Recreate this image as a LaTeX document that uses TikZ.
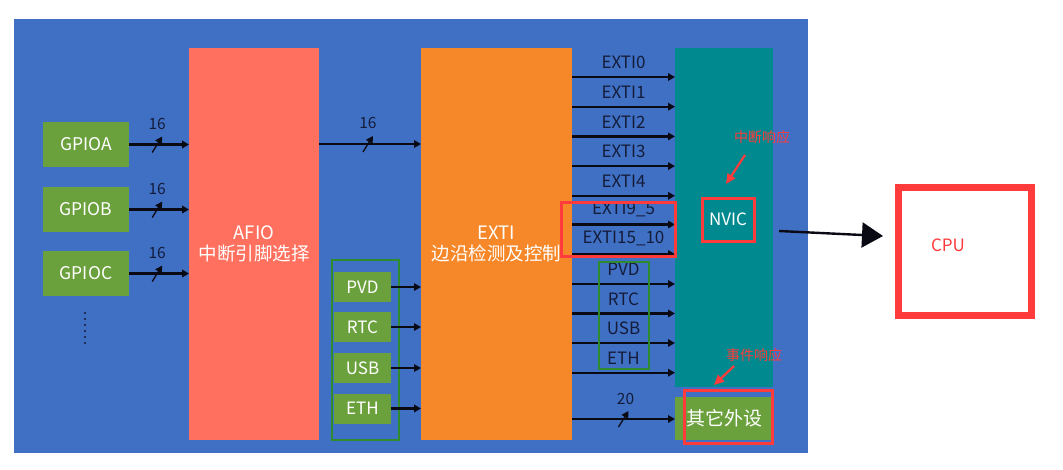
\documentclass[tikz,border=0pt]{standalone}
\usepackage{fontspec}
\setmainfont{Noto Sans CJK SC}
\usetikzlibrary{arrows.meta,decorations.markings}
\definecolor{bgblue}{HTML}{4070C4}
\definecolor{salmon}{HTML}{FF705E}
\definecolor{exorange}{HTML}{F68829}
\definecolor{teal}{HTML}{00898F}
\definecolor{boxgreen}{HTML}{6BA13D}
\definecolor{outgreen}{HTML}{2E8B2E}
\definecolor{annred}{HTML}{FF3B3B}
\definecolor{inkdark}{HTML}{141C3A}
\definecolor{arrowblack}{HTML}{0A0A14}
\begin{document}
\begin{tikzpicture}[x=1pt,y=-1pt,
  blk/.style={rectangle, inner sep=0pt, outer sep=0pt, draw=none},
  gbox/.style={blk, fill=boxgreen, text=white, font=\fontsize{17.5}{19}\selectfont},
  sbox/.style={blk, fill=boxgreen, text=white, minimum width=57pt, minimum height=30pt, font=\fontsize{17}{19}\selectfont},
  frame/.style={rectangle, inner sep=0pt, outer sep=0pt, fill=none},
  redframe/.style={frame, draw=annred, line width=3pt},
  greenframe/.style={frame, draw=outgreen, line width=2.5pt},
  lbl/.style={inner sep=0pt, text=inkdark, font=\fontsize{17}{19}\selectfont},
  num/.style={inner sep=0pt, text=inkdark, font=\fontsize{15.5}{17}\selectfont},
  ann/.style={inner sep=0pt, text=annred, font=\fontsize{14}{15}\selectfont},
  arr/.style={draw=arrowblack, line width=2.2pt, -{Triangle[length=7pt,width=7.5pt]}},
  bus/.style={arr, postaction={decorate, decoration={markings,
      mark=at position #1 with {\draw[arrowblack, line width=1.3pt] (-5pt,-8pt) -- (5pt,8pt);}}}},
  redarr/.style={draw=annred, line width=2.2pt, -{Triangle[length=10pt,width=9pt]}}
]
\useasboundingbox (0,0) rectangle (1063,469);
\fill[white] (0,0) rectangle (1063,469);
% background panel
\node[blk, fill=bgblue, minimum width=794pt, minimum height=434pt] (panel) at (411,236) {};

% GPIO sources
\node[gbox, minimum width=86pt, minimum height=45pt] (gpioa) at (86,144.5) {GPIOA};
\node[gbox, minimum width=86pt, minimum height=45pt] (gpiob) at (86,209.5) {GPIOB};
\node[gbox, minimum width=86pt, minimum height=45pt] (gpioc) at (86,273.5) {GPIOC};
\foreach \i in {0,...,5} \fill[inkdark] (85,313+6*\i) circle (1.1);

% main blocks
\node[blk, fill=salmon, minimum width=130pt, minimum height=392pt, text=white, align=center,
  font=\fontsize{18.5}{21}\selectfont] (afio) at (254,244) {AFIO\\中断引脚选择};
\node[blk, fill=exorange, minimum width=151pt, minimum height=392pt, text=white, align=center,
  font=\fontsize{18.5}{21}\selectfont] (exti) at (496.5,244) {EXTI\\边沿检测及控制};
\node[blk, fill=teal, minimum width=98pt, minimum height=339pt] (nvic) at (724,217.5) {};
\node[gbox, minimum width=98pt, minimum height=43pt, font=\fontsize{19}{20}\selectfont] (other) at (724,418.5) {其它外设};

% left peripheral group
\node[greenframe, minimum width=67pt, minimum height=180pt] (lgroup) at (365.5,350) {};
\node[sbox] (pvd) at (362.5,287) {PVD};
\node[sbox] (rtc) at (362.5,327) {RTC};
\node[sbox] (usb) at (362.5,368) {USB};
\node[sbox] (eth) at (362.5,408.5) {ETH};

% GPIO -> AFIO buses
\draw[bus=0.47] (gpioa.east) -- (afio.west |- gpioa.east) node[num, pos=0.47, above=14pt] {16};
\draw[bus=0.47] (gpiob.east) -- (afio.west |- gpiob.east) node[num, pos=0.47, above=14pt] {16};
\draw[bus=0.47] (gpioc.east) -- (afio.west |- gpioc.east) node[num, pos=0.47, above=14pt] {16};

% AFIO -> EXTI
\coordinate (afioout) at (319,144);
\draw[bus=0.48] (afio.east |- afioout) -- (exti.west |- afioout) node[num, pos=0.48, above=14pt] {16};

% peripherals -> EXTI
\foreach \p in {pvd,rtc,usb,eth} \draw[arr] (\p.east) -- (exti.west |- \p.east);

% EXTI -> NVIC lines
\foreach \y/\t in {77/EXTI0,106.7/EXTI1,136.4/EXTI2,166.1/EXTI3,195.8/EXTI4,224.5/EXTI9\_5,254/EXTI15\_10,284/PVD,313.5/RTC,343/USB,372.7/ETH}{
  \coordinate (ln) at (0,\y);
  \draw[arr] (exti.east |- ln) -- (nvic.west |- ln) node[lbl, pos=0.5, above=7pt] {\t};
}

% EXTI -> other peripherals (20 lines)
\coordinate (ln20) at (0,419);
\draw[bus=0.5] (exti.east |- ln20) -- (other.west |- ln20) node[num, pos=0.52, above=13pt] {20};

% highlight frames
\node[greenframe, minimum width=50pt, minimum height=107pt] (rgroup) at (624,315.5) {};
\node[redframe, minimum width=114pt, minimum height=54pt] (extired) at (618,229) {};
\node[redframe, minimum width=52pt, minimum height=43pt, text=white,
  font=\fontsize{17}{18}\selectfont] (nvicbox) at (728,219.5) {NVIC};
\node[redframe, minimum width=88pt, minimum height=53pt] (otherred) at (728,416.5) {};

% annotations
\node[ann] (irq) at (762,137.5) {中断响应};
\node[ann] (evt) at (754,355) {事件响应};
\coordinate (irqtail) at (745,155);
\coordinate (irqtip) at (726,184);
\coordinate (evttail) at (734,366);
\coordinate (evttip) at (714,385);
\draw[redarr] (irqtail) -- (irqtip);
\draw[redarr] (evttail) -- (evttip);

% CPU
\node[frame, draw=annred, line width=7pt, minimum width=133pt, minimum height=128pt] (cpu) at (965,251.5) {};
\node[ann, font=\fontsize{17}{19}\selectfont] (cputxt) at (948,245) {CPU};
\coordinate (bigstart) at (779,231);
\coordinate (bigtip) at (883,236);
\draw[arrowblack, line width=2.4pt, -{Triangle[length=21pt,width=25pt]}] (bigstart) -- (bigtip);
\end{tikzpicture}
\end{document}
